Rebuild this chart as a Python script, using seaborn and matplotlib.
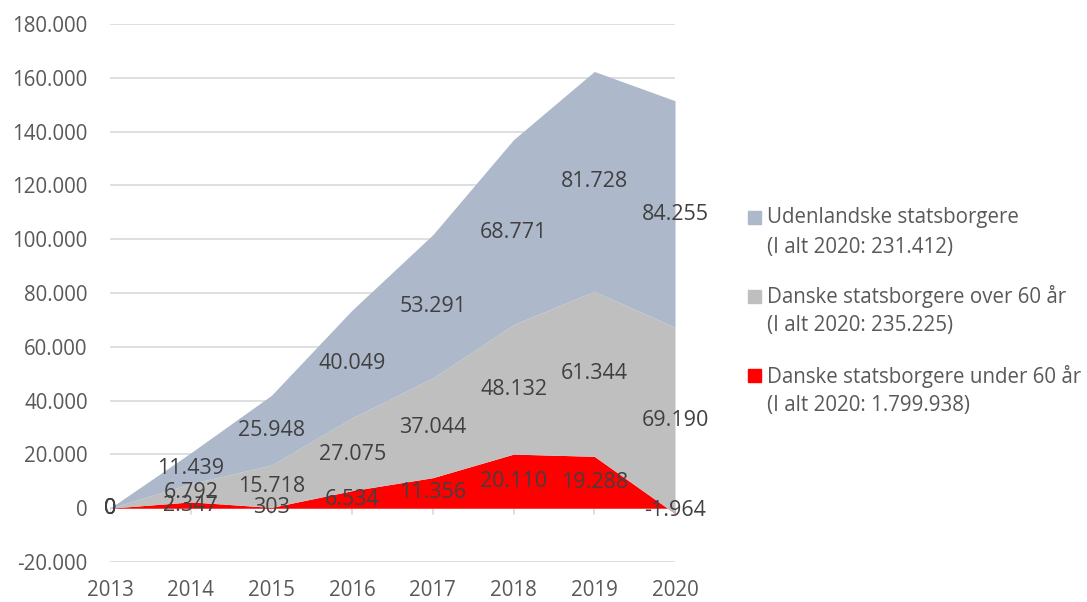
import matplotlib
matplotlib.use("Agg")
import matplotlib.pyplot as plt
from matplotlib.patches import Rectangle
from matplotlib.ticker import FuncFormatter
import numpy as np
import seaborn as sns

years = [2013, 2014, 2015, 2016, 2017, 2018, 2019, 2020]
under60 = [0, 2347, 303, 6534, 11356, 20110, 19288, -1964]
over60 = [0, 6792, 15718, 27075, 37044, 48132, 61344, 69190]
foreign = [0, 11439, 25948, 40049, 53291, 68771, 81728, 84255]

series_names = ["Danske statsborgere under 60 år", "Danske statsborgere over 60 år", "Udenlandske statsborgere"]
legend_totals = ["(I alt 2020: 1.799.938)", "(I alt 2020: 235.225)", "(I alt 2020: 231.412)"]
colors = ["#FF0000", "#BFBFBF", "#ADB9CA"]
y_ticks = list(range(-20000, 180001, 20000))

sns.set_theme(style="white")
plt.rcParams["font.family"] = ["Open Sans", "DejaVu Sans"]

FS = 14.8
FS_LAB = 15.5
TICK_C = "#595959"
LAB_C = "#404040"

fig = plt.figure(figsize=(10.87, 6.02), dpi=100)
ax = fig.add_axes([110 / 1087, 1 - 562 / 602, 565 / 1087, (562 - 24) / 602])

def fmt(v):
    s = f"{abs(int(round(v))):,}".replace(",", ".")
    return ("-" if v < 0 else "") + s

# gridlines
for t in y_ticks:
    ax.axhline(t, color="#D9D9D9", lw=1.2, zorder=0)

data = [under60, over60, foreign]
x = np.array(years, dtype=float)
lower = np.zeros(len(years))
bands = []
for vals, c in zip(data, colors):
    upper = lower + np.array(vals, dtype=float)
    ax.fill_between(x, lower, upper, color=c, lw=0, zorder=2)
    bands.append((lower.copy(), upper.copy(), vals))
    lower = upper

# zero tick marks
for yr in years:
    ax.plot([yr, yr], [0, -2300], color="#D9D9D9", lw=1.2, zorder=1)

# data labels
for lo, up, vals in bands:
    for xi, l, u, v in zip(x, lo, up, vals):
        ax.text(xi, (l + u) / 2, fmt(v), ha="center", va="center",
                fontsize=FS_LAB, color=LAB_C, zorder=5)

ax.set_xlim(2013, 2020)
ax.set_ylim(-20000, 180000)
ax.set_yticks(y_ticks)
ax.yaxis.set_major_formatter(FuncFormatter(lambda v, p: fmt(v)))
ax.set_xticks(years)
ax.set_xticklabels([str(y) for y in years])
ax.tick_params(axis="both", length=0, labelsize=FS, labelcolor=TICK_C)
ax.tick_params(axis="y", pad=16)
ax.tick_params(axis="x", pad=13)
for s in ax.spines.values():
    s.set_visible(False)
ax.set_facecolor("none")

# legend (manual)
entries = list(zip(series_names, legend_totals, colors))[::-1]
W, H = 1087, 602
for i, (name, tot, c) in enumerate(entries):
    y1 = 218 + i * 79
    fig.patches.append(Rectangle((748 / W, 1 - (y1 + 6) / H), 13 / W, 13 / H,
                                 transform=fig.transFigure, color=c))
    fig.text(767 / W, 1 - y1 / H, name, fontsize=FS, color=TICK_C, va="center", ha="left")
    fig.text(767 / W, 1 - (y1 + 29) / H, tot, fontsize=FS, color=TICK_C, va="center", ha="left")

fig.savefig("out.png", dpi=100, facecolor="white")
